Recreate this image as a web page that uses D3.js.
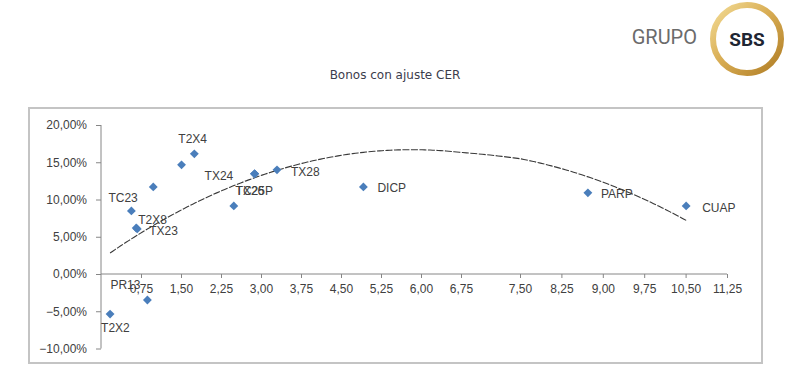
<!DOCTYPE html>
<html><head><meta charset="utf-8">
<script src="https://cdn.jsdelivr.net/npm/d3@7"></script>
<style>body{margin:0;background:#fff}svg{display:block}</style>
</head><body><svg id="c" width="800" height="378"></svg>
<script>
// ---- data ----
const names = ["T2X2","PR13","TC23","T2X8","TX23","","","T2X4","","TX24","TX26","TC25P","TX28","DICP","PARP","CUAP"];
const duration = [0.17,0.87,0.57,0.66,0.68,0.98,1.51,1.75,2.49,2.88,2.88,2.88,3.30,4.92,8.73,10.51];
const yieldPct = [-5.38,-3.49,8.47,6.18,6.05,11.69,14.65,16.13,9.14,13.44,13.44,13.44,13.98,11.69,10.89,9.14];
const xTicks = [0.75,1.5,2.25,3,3.75,4.5,5.25,6,6.75,7.5,8.25,9,9.75,10.5,11.25];
const yTicks = [-10,-5,0,5,10,15,20];
const trendCoef = [1.974, 5.048, -0.433]; // c + b*x + a*x^2 (polynomial trend)
const trendRange = [0.17, 10.53];
const title = "Bonos con ajuste CER";

// ---- layout (label offsets relative to each point) ----
const labelOffset = [[-9,14],[-37,-15],[-23,-13],[2,-8],[12,2],[0,0],[0,0],[-16,-15],[0,0],[-50,2],[-19,17],[-19,17],[14,2],[14,1],[13,1],[16,2]];

const svg = d3.select("#c");
const fmt = v => d3.format(".2f")(v).replace(".", ",");

// logo
const defs = svg.append("defs");
const g1 = defs.append("linearGradient").attr("id","gold").attr("x1","0%").attr("y1","0%").attr("x2","100%").attr("y2","100%");
g1.append("stop").attr("offset","0%").attr("stop-color","#f3dc96");
g1.append("stop").attr("offset","45%").attr("stop-color","#d9ae55");
g1.append("stop").attr("offset","100%").attr("stop-color","#b07d25");
svg.append("circle").attr("cx",747).attr("cy",39).attr("r",34).attr("fill","#fff")
  .attr("stroke","url(#gold)").attr("stroke-width",6);
svg.append("text").attr("x",747).attr("y",46).attr("text-anchor","middle")
  .attr("font-family","Roboto").attr("font-weight","bold").attr("font-size",19)
  .attr("fill","#1e2633").text("SBS");
svg.append("text").attr("x",697).attr("y",44).attr("text-anchor","end")
  .attr("font-family","Roboto").attr("font-size",20).attr("fill","#6b6b6b").text("GRUPO");

// title
svg.append("text").attr("x",395).attr("y",79).attr("text-anchor","middle")
  .attr("font-family","DejaVu Sans").attr("font-size",12).attr("fill","#3c3c4c").text(title);

// chart frame
svg.append("rect").attr("x",29).attr("y",108).attr("width",733).attr("height",255)
  .attr("fill","#fff").attr("stroke","#c4c4c4").attr("stroke-width",2);

// scales
const x = d3.scaleLinear().domain([0,6.75,7.5,11.25]).range([101,461,520,727]);
const y = d3.scaleLinear().domain([-10,20]).range([348.5,125]);

const font = "Liberation Sans, Arial, sans-serif";
const axisCol = "#868686";

// y axis
const yAxis = svg.append("g").attr("transform",`translate(${x(0)},0)`)
  .call(d3.axisLeft(y).tickValues(yTicks).tickSize(5).tickPadding(9).tickFormat(v => fmt(v) + "%"));
// x axis
const xAxis = svg.append("g").attr("transform",`translate(0,${y(0)})`)
  .call(d3.axisBottom(x).tickValues(xTicks).tickSize(4).tickPadding(6).tickFormat(fmt));
[yAxis, xAxis].forEach(a => {
  a.select(".domain").attr("stroke",axisCol).attr("stroke-width",1);
  a.selectAll(".tick line").attr("stroke",axisCol);
  a.selectAll("text").attr("font-family",font).attr("font-size",12).attr("fill","#404040");
});
yAxis.select(".domain").attr("d",`M0,${y(20)}V${y(-10)}`);
xAxis.select(".domain").attr("d",`M${x(0)},0H${x(11.25)}`);

// trend line
const [c0,c1,c2] = trendCoef;
const trendX = d3.range(trendRange[0], trendRange[1] + 1e-9, 0.05);
svg.append("path").datum(trendX)
  .attr("d", d3.line().x(d => x(d)).y(d => y(c0 + c1*d + c2*d*d)))
  .attr("fill","none").attr("stroke","#3a3a3a").attr("stroke-width",1.1).attr("stroke-dasharray","7,1.5");

// points
const pts = names.map((n,i) => ({n, x: duration[i], y: yieldPct[i], o: labelOffset[i]}));
svg.append("g").selectAll("path").data(pts).join("path")
  .attr("transform", d => `translate(${x(d.x)},${y(d.y)})`)
  .attr("d", d3.symbol().type(d3.symbolDiamond2).size(50))
  .attr("fill","#4a7ebb");

// labels
svg.append("g").selectAll("text").data(pts.filter(d => d.n)).join("text")
  .attr("x", d => x(d.x) + d.o[0]).attr("y", d => y(d.y) + d.o[1])
  .attr("dominant-baseline","central")
  .attr("font-family",font).attr("font-size",12).attr("fill","#404040")
  .text(d => d.n);
</script></body></html>
